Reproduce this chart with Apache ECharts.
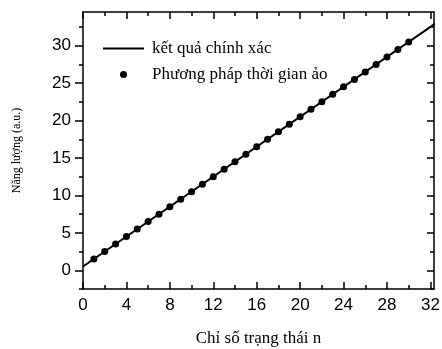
<!DOCTYPE html>
<html>
<head>
<meta charset="utf-8">
<script src="https://cdn.jsdelivr.net/npm/echarts@6/dist/echarts.min.js"></script>
<style>
  html, body { margin: 0; padding: 0; background: #fff; }
  #chart { width: 442px; height: 349px; }
</style>
</head>
<body>
<div id="chart"></div>
<script>
// exact result: straight line E = n + 1/2
var exactX = [0, 33];
var exactY = [0.5, 33.5];
// imaginary time method points
var stateN = [1, 2, 3, 4, 5, 6, 7, 8, 9, 10, 11, 12, 13, 14, 15, 16, 17, 18, 19, 20, 21, 22, 23, 24, 25, 26, 27, 28, 29, 30];
var energy = [1.5, 2.5, 3.5, 4.5, 5.5, 6.5, 7.5, 8.5, 9.5, 10.5, 11.5, 12.5, 13.5, 14.5, 15.5, 16.5, 17.5, 18.5, 19.5, 20.5, 21.5, 22.5, 23.5, 24.5, 25.5, 26.5, 27.5, 28.5, 29.5, 30.5];
// ticks
var xMajor = [0, 4, 8, 12, 16, 20, 24, 28, 32];
var xMinor = [2, 6, 10, 14, 18, 22, 26, 30];
var yMajor = [0, 5, 10, 15, 20, 25, 30];
var yMinor = [-2.5, 2.5, 7.5, 12.5, 17.5, 22.5, 27.5, 32.5];

var lineName = 'kết quả chính xác';
var dotName = 'Phương pháp thời gian ảo';

var black = '#000';
var sans = 'Liberation Sans';
var serif = 'Liberation Serif';

function xAx(pos, ticks, len, labels, line) {
  return {
    type: 'value', position: pos, min: 0, max: 32.33,
    axisLine: { show: line, onZero: false, lineStyle: { color: black, width: 1.5 } },
    axisTick: { inside: true, length: len, customValues: ticks, lineStyle: { color: black, width: 1.5 } },
    axisLabel: { show: labels, customValues: ticks, color: black, fontFamily: sans, fontSize: 17, margin: 8 },
    splitLine: { show: false }
  };
}
function yAx(pos, ticks, len, inside, labels, line) {
  return {
    type: 'value', position: pos, min: -2.5, max: 34.5,
    axisLine: { show: line, onZero: false, lineStyle: { color: black, width: 1.5 } },
    axisTick: { inside: inside, length: len, customValues: ticks, lineStyle: { color: black, width: 1.5 } },
    axisLabel: { show: labels, customValues: ticks, color: black, fontFamily: sans, fontSize: 17, margin: 12 },
    splitLine: { show: false }
  };
}

var xBottom = xAx('bottom', xMajor, 7, true, true);
xBottom.name = 'Chỉ số trạng thái n';
xBottom.nameLocation = 'middle';
xBottom.nameGap = 41;
xBottom.nameTextStyle = { color: black, fontFamily: serif, fontSize: 17 };

var yLeft = yAx('left', yMajor, 8, false, true, true);
yLeft.name = 'Năng lượng (a.u.)';
yLeft.nameLocation = 'middle';
yLeft.nameGap = 60;
yLeft.nameTextStyle = { color: black, fontFamily: serif, fontSize: 12 };

var chart = echarts.init(document.getElementById('chart'));
chart.setOption({
  backgroundColor: '#fff',
  animation: false,
  grid: { left: 83, right: 8, top: 12, bottom: 60, outerBoundsMode: 'none' },
  legend: {
    orient: 'vertical',
    left: 97,
    top: 35,
    itemWidth: 41,
    itemHeight: 7,
    itemGap: 9,
    data: [
      { name: lineName, itemStyle: { opacity: 0 } },
      { name: dotName }
    ],
    textStyle: { color: black, fontFamily: serif, fontSize: 17, padding: [0, 0, 0, 3] }
  },
  xAxis: [
    xBottom,
    xAx('bottom', xMinor, 4, false, false),
    xAx('top', xMajor, 7, false, true),
    xAx('top', xMinor, 4, false, false)
  ],
  yAxis: [
    yLeft,
    yAx('left', yMinor, 4, false, false, false),
    yAx('right', yMajor, 7, true, false, true),
    yAx('right', yMinor, 4, true, false, false)
  ],
  series: [
    {
      name: lineName,
      type: 'line',
      xAxisIndex: 0, yAxisIndex: 0,
      data: exactX.map(function (x, i) { return [x, exactY[i]]; }),
      showSymbol: false,
      symbol: 'none',
      lineStyle: { color: black, width: 2 },
      itemStyle: { color: black }
    },
    {
      name: dotName,
      type: 'scatter',
      xAxisIndex: 0, yAxisIndex: 0,
      data: stateN.map(function (n, i) { return [n, energy[i]]; }),
      symbol: 'circle',
      symbolSize: 7,
      itemStyle: { color: black, opacity: 1 }
    }
  ]
});
</script>
</body>
</html>
